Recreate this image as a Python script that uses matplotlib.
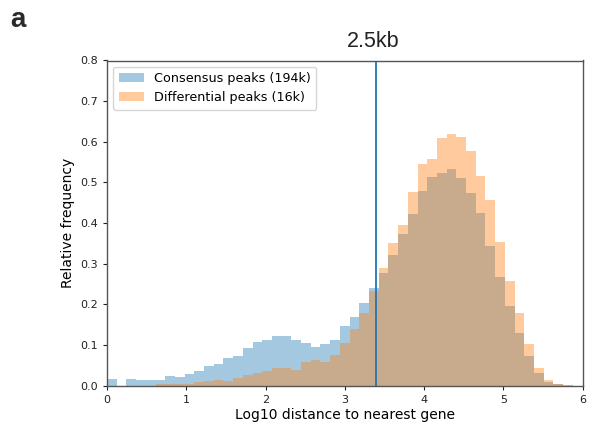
import numpy as np
import matplotlib
matplotlib.use("Agg")
import matplotlib.pyplot as plt

# Histogram bins on log10 distance (0..6, 49 bins)
bin_edges = np.linspace(0, 6, 50)

consensus_freq = [0.016, 0.000, 0.016, 0.014, 0.014, 0.014, 0.024, 0.021, 0.030, 0.037,
                  0.049, 0.053, 0.068, 0.073, 0.093, 0.107, 0.112, 0.122, 0.122, 0.112,
                  0.105, 0.095, 0.102, 0.112, 0.147, 0.169, 0.203, 0.240, 0.277, 0.321,
                  0.373, 0.422, 0.478, 0.513, 0.523, 0.533, 0.510, 0.473, 0.424, 0.343,
                  0.267, 0.196, 0.129, 0.073, 0.031, 0.009, 0.004, 0.001, 0.000]

differential_freq = [0.000, 0.000, 0.000, 0.000, 0.000, 0.004, 0.004, 0.004, 0.004, 0.008,
                     0.012, 0.014, 0.012, 0.019, 0.026, 0.031, 0.036, 0.043, 0.043, 0.038,
                     0.058, 0.063, 0.058, 0.075, 0.105, 0.139, 0.178, 0.233, 0.289, 0.350,
                     0.395, 0.476, 0.545, 0.557, 0.609, 0.618, 0.611, 0.577, 0.517, 0.456,
                     0.353, 0.257, 0.178, 0.102, 0.043, 0.014, 0.003, 0.000, 0.000]

labels = ["Consensus peaks (194k)", "Differential peaks (16k)"]
cutoff_bp = 2500

fig = plt.figure(figsize=(5.89, 4.28), dpi=100)
ax = fig.add_axes([107 / 589, (428 - 385.7) / 428, (582.5 - 107) / 589, (385.7 - 60.5) / 428])

centers = bin_edges[:-1]
ax.hist(centers, bins=bin_edges, weights=consensus_freq, alpha=0.4, color="#1f77b4", label=labels[0])
ax.hist(centers, bins=bin_edges, weights=differential_freq, alpha=0.4, color="#ff7f0e", label=labels[1])
ax.axvline(np.log10(cutoff_bp), color="#1f77b4", linewidth=1.3)

ax.set_xlim(0, 6)
ax.set_ylim(0, 0.8)
ax.set_xticks(range(0, 7))
ax.set_yticks(np.arange(0, 0.81, 0.1))
ax.set_yticklabels([f"{v:.1f}" for v in np.arange(0, 0.81, 0.1)])
ax.tick_params(labelsize=8, length=3, width=0.8, colors="#222222")
for s in ax.spines.values():
    s.set_color("#555555")
    s.set_linewidth(1.0)

ax.set_xlabel("Log10 distance to nearest gene", fontsize=10, labelpad=2)
ax.set_ylabel("Relative frequency", fontsize=10, labelpad=4)

leg = ax.legend(loc="upper left", fontsize=9.2, frameon=True, fancybox=True)
leg.get_frame().set_edgecolor("#cccccc")

fig.text(373 / 589, 1 - 46.7 / 428, "2.5kb", ha="center", va="baseline",
         fontsize=15.5, family="Liberation Sans", color="#222222")
fig.text(10 / 589, 1 - 26.7 / 428, "a", ha="left", va="baseline",
         fontsize=20, family="Liberation Sans", fontweight="bold", color="#2a2a2a")

fig.savefig("out.png", dpi=100)
